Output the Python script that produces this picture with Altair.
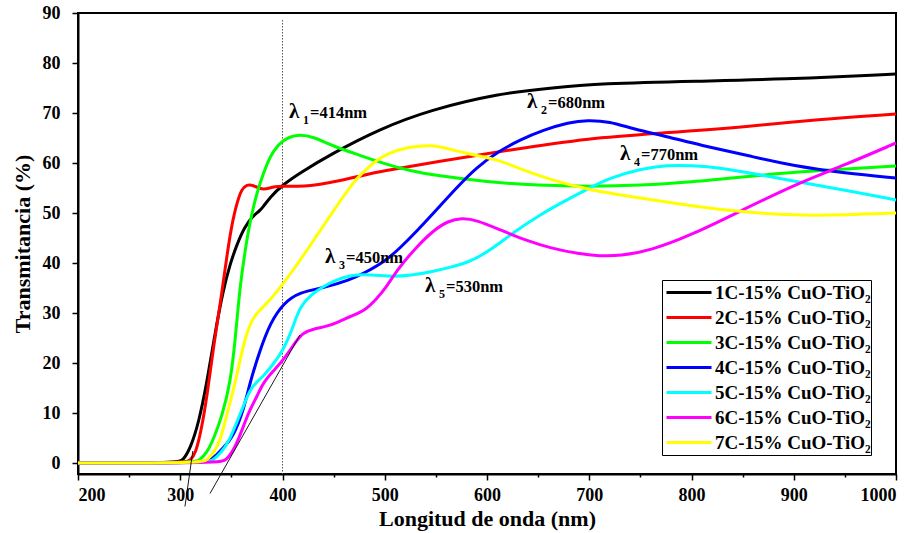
import altair as alt
import pandas as pd

FONT = "Liberation Serif"

series_names = [
    "1C-15% CuO-TiO₂", "2C-15% CuO-TiO₂", "3C-15% CuO-TiO₂", "4C-15% CuO-TiO₂",
    "5C-15% CuO-TiO₂", "6C-15% CuO-TiO₂", "7C-15% CuO-TiO₂",
]
series_colors = ["#000000", "#ff0000", "#00ff00", "#0000ff", "#00ffff", "#ff00ff", "#ffff00"]

s1_nm = [200, 298, 303, 310, 318, 326, 334, 342, 349, 356, 363, 371, 377, 381, 388, 400, 417, 446,
         495, 544, 612, 662, 710, 808, 886, 1000]
s1_T = [0, 0, 0.6, 3, 8, 16, 26, 34.6, 40, 44, 47.2, 49.4, 50.3, 51.2, 53.2, 55.6, 58, 61.6,
        66.8, 70.6, 73.9, 75, 75.9, 76.4, 76.7, 77.8]

s2_nm = [200, 305, 310, 315, 320, 326, 333, 340, 346, 351, 358, 363, 368, 374, 381, 390, 400, 430,
         480, 495, 550, 622, 700, 772, 857, 922, 1000]
s2_T = [0, 0, 0.5, 2, 6, 13, 24, 33, 42, 48.5, 54, 55.4, 55.7, 55.3, 54.6, 55.2, 55.4, 55.2,
        57.6, 58.3, 60.2, 62.6, 65, 66, 67.3, 68.7, 69.8]

s3_nm = [200, 314, 319, 326, 333, 341, 349, 354, 358, 363, 368, 373, 378, 385, 391, 400, 414, 430,
         450, 475, 500, 525, 550, 600, 650, 700, 750, 800, 850, 900, 1000]
s3_T = [0, 0, 0.6, 2, 5, 9.5, 16, 25, 34.6, 42, 48, 52.5, 56, 60, 62.4, 64.6, 65.8, 65.3,
        63.3, 61.6, 59.8, 58.4, 57.5, 56.2, 55.5, 55.3, 55.5, 56.2, 57.2, 58.2, 59.4]

s4_nm = [200, 324, 329, 335, 342, 352, 362, 368, 378, 388, 401, 417, 440, 466, 480, 500, 515, 531,
         550, 570, 590, 612, 632, 655, 680, 698, 720, 743, 776, 808, 857, 900, 950, 1000]
s4_T = [0, 0, 0.6, 1.5, 3, 5.3, 10.6, 16, 22.6, 28, 32, 34.2, 35, 36.6, 38, 40.3, 43, 46.3,
        50.5, 55, 59.2, 62.4, 64.6, 66.6, 68.1, 68.6, 68.3, 66.8, 65.3, 63.6, 61.4, 59.4, 58, 57]

s5_nm = [200, 327, 332, 340, 348, 355, 362, 368, 375, 381, 390, 401, 410, 417, 428, 440, 452, 466,
         480, 495, 508, 525, 547, 565, 580, 600, 629, 650, 675, 700, 720, 750, 776, 800, 830, 857,
         900, 950, 1000]
s5_T = [0, 0, 0.6, 2, 4.5, 8, 11.5, 14.6, 16.3, 17.3, 19.5, 22.6, 27, 31.3, 33.7, 35.3, 36.6, 37.5,
        37.7, 37.5, 37.3, 37.5, 38.3, 39.2, 40, 42, 46.6, 49.4, 52.3, 55, 57, 58.8, 59.6, 59.5, 59, 58,
        56.4, 54.6, 52.6]

s6_nm = [200, 340, 345, 352, 358, 363, 368, 375, 381, 390, 401, 414, 420, 430, 443, 455, 466, 480,
         492, 502, 512, 530, 548, 562, 575, 590, 613, 640, 662, 690, 710, 730, 760, 800, 850, 900,
         950, 1000]
s6_T = [0, 0, 0.6, 2.5, 5.3, 8, 10.6, 13.3, 16, 18.2, 20.6, 24.6, 26, 26.8, 27.3, 28.2, 29.3, 30.4,
        32.8, 35.3, 38.6, 43, 46.6, 48.4, 49, 48.6, 46.6, 44.4, 43, 41.8, 41.4, 41.4, 42.5, 45.6, 50.6,
        55.6, 59.6, 64]

s7_nm = [200, 321, 326, 333, 340, 345, 350, 355, 360, 365, 370, 375, 381, 388, 401, 412, 424, 437,
         450, 462, 471, 483, 495, 510, 537, 555, 577, 612, 622, 662, 700, 750, 800, 850, 900, 950, 1000]
s7_T = [0, 0, 0.6, 2, 5, 9.3, 13, 17.3, 22, 26, 28.5, 30, 31.2, 32.6, 36, 39, 42.6, 46.5,
        50.5, 54, 56.6, 59, 61, 62.6, 63.6, 63.3, 62, 60.6, 59.6, 56.6, 54.6, 53, 51.4, 50.2, 49.5,
        49.6, 50]

all_nm = [s1_nm, s2_nm, s3_nm, s4_nm, s5_nm, s6_nm, s7_nm]
all_T = [s1_T, s2_T, s3_T, s4_T, s5_T, s6_T, s7_T]

# annotations: lambda labels (left edge, baseline)
ann_sub = ["1", "2", "3", "4", "5"]
ann_rest = ["=414nm", "=680nm", "=450nm", "=770nm", "=530nm"]
ann_nm = [406.4, 639.1, 441.6, 730.1, 539.4]
ann_T = [69.0, 71.0, 40.0, 60.6, 34.2]

# tangent lines
tan_nm = [304.6, 329.1]
tan_T = [-8.7, -6.1]
tan_nm2 = [312.3, 417.1]
tan_T2 = [2.4, 25.6]

# dotted reference line
ref_nm = [400]
ref_top = [88.6]
ref_bottom = [-2.2]

rows = []
for name, xs, ys in zip(series_names, all_nm, all_T):
    for i, (x, y) in enumerate(zip(xs, ys)):
        rows.append({"serie": name, "nm": x, "T": y, "ord": i})
df = pd.DataFrame(rows)

ann_df = pd.DataFrame({"nm": ann_nm, "T": ann_T, "sub": ann_sub, "rest": ann_rest,
                       "lam": ["λ"] * len(ann_nm)})
tan_df = pd.DataFrame({"nm": tan_nm, "T": tan_T, "nm2": tan_nm2, "T2": tan_T2})
ref_df = pd.DataFrame({"nm": ref_nm, "top": ref_top, "bottom": ref_bottom})

x_scale = alt.Scale(domain=[200, 1000], nice=False, zero=False)
y_scale = alt.Scale(domain=[-2.2, 90], nice=False, zero=False)

x_axis = alt.Axis(
    values=list(range(200, 1001, 50)), format="d",
    labelExpr="datum.value % 100 === 0 ? datum.label : ''",
    tickSize={"condition": {"test": "datum.value % 100 === 0", "value": 6}, "value": 3},
    title="Longitud de onda (nm)", titlePadding=4, labelPadding=6,
)
y_axis = alt.Axis(
    values=list(range(0, 91, 5)), format="d",
    labelExpr="datum.value % 10 === 0 ? datum.label : ''",
    tickSize={"condition": {"test": "datum.value % 10 === 0", "value": 6}, "value": 3},
    title="Transmitancia (%)", titlePadding=8, labelPadding=12,
)

lines = alt.Chart(df).mark_line(strokeWidth=3, interpolate="basis").encode(
    x=alt.X("nm:Q", scale=x_scale, axis=x_axis),
    y=alt.Y("T:Q", scale=y_scale, axis=y_axis),
    color=alt.Color(
        "serie:N",
        scale=alt.Scale(domain=series_names, range=series_colors),
        legend=alt.Legend(
            title=None, orient="none", legendX=584, legendY=267,
            symbolType="stroke", symbolSize=2025, symbolStrokeWidth=3,
            clipHeight=25, rowPadding=0, padding=0, symbolOffset=3,
            strokeColor="black", fillColor="white",
            labelFont=FONT, labelFontSize=19, labelFontWeight="bold",
            labelColor="black", labelOffset=2, labelLimit=300,
        ),
    ),
    order="ord:Q",
)

ref = alt.Chart(ref_df).mark_rule(color="#555555", strokeWidth=1, strokeDash=[1.5, 1.5]).encode(
    x="nm:Q", y="top:Q", y2="bottom:Q"
)

tangents = alt.Chart(tan_df).mark_rule(color="black", strokeWidth=0.9, clip=False).encode(
    x="nm:Q", y="T:Q", x2="nm2:Q", y2="T2:Q"
)

lam = alt.Chart(ann_df).mark_text(
    font=FONT, fontSize=21, fontWeight="bold", align="left", baseline="alphabetic", color="black"
).encode(x="nm:Q", y="T:Q", text="lam:N")
sub = alt.Chart(ann_df).mark_text(
    font=FONT, fontSize=12, fontWeight="bold", align="left", baseline="alphabetic",
    color="black", dx=14, dy=6
).encode(x="nm:Q", y="T:Q", text="sub:N")
rest = alt.Chart(ann_df).mark_text(
    font=FONT, fontSize=16.5, fontWeight="bold", align="left", baseline="alphabetic",
    color="black", dx=21
).encode(x="nm:Q", y="T:Q", text="rest:N")

chart = alt.layer(ref, lines, tangents, lam, sub, rest).properties(
    width=818, height=461,
    padding={"left": 78, "top": 13, "right": 21, "bottom": 59},
    autosize=alt.AutoSizeParams(type="none"),
).configure_view(
    stroke="black", strokeWidth=2
).configure_axis(
    labelFont=FONT, labelFontSize=18, labelFontWeight="bold", labelColor="black",
    titleFont=FONT, titleFontSize=22, titleFontWeight="bold", titleColor="black",
    domainColor="black", domainWidth=2, tickColor="black", tickWidth=1.5, grid=False,
)

chart.save("out.html", embed_options={"renderer": "svg", "actions": False})
